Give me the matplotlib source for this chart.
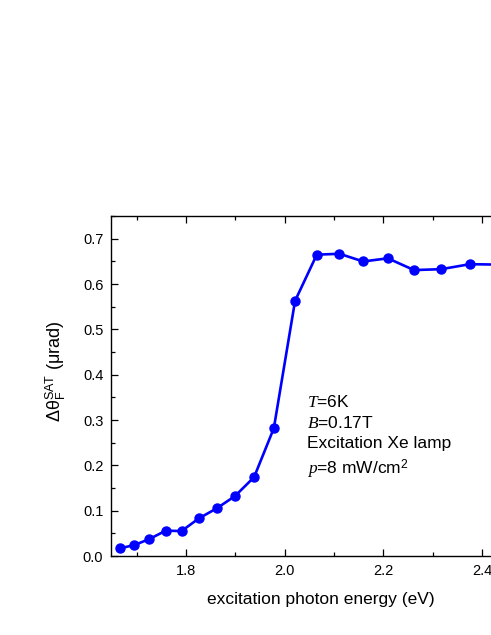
import matplotlib
matplotlib.use("Agg")
import matplotlib.pyplot as plt
from matplotlib.ticker import MultipleLocator

plt.rcParams['font.family'] = ['Liberation Sans', 'DejaVu Sans']
plt.rcParams['mathtext.fontset'] = 'custom'
plt.rcParams['mathtext.rm'] = 'Liberation Sans'
plt.rcParams['mathtext.it'] = 'Liberation Serif:italic'
plt.rcParams['mathtext.bf'] = 'Liberation Sans:bold'

energy = [1.666, 1.695, 1.726, 1.759, 1.791, 1.826, 1.862, 1.899, 1.938, 1.978,
          2.021, 2.065, 2.111, 2.159, 2.209, 2.262, 2.317, 2.375, 2.44]
signal = [0.017, 0.024, 0.0375, 0.056, 0.055, 0.083, 0.105, 0.132, 0.174, 0.282,
          0.563, 0.665, 0.667, 0.650, 0.657, 0.631, 0.633, 0.644, 0.643]

fig = plt.figure(figsize=(4.91, 6.35), dpi=100)
ax = fig.add_axes([0.226, 0.1244, 0.8564, 0.5359])

ax.plot(energy, signal, color='#0000ff', lw=1.9, marker='o', ms=6.5, clip_on=True)

ax.set_xlim(1.648, 2.5)
ax.set_ylim(0, 0.751)
ax.xaxis.set_major_locator(MultipleLocator(0.2))
ax.xaxis.set_minor_locator(MultipleLocator(0.1))
ax.yaxis.set_major_locator(MultipleLocator(0.1))
ax.yaxis.set_minor_locator(MultipleLocator(0.05))
ax.tick_params(which='both', direction='in', top=True, right=True, labelsize=10.5, width=0.9)
ax.tick_params(which='major', length=5, pad=5.5)
ax.tick_params(which='minor', length=3)
for s in ax.spines.values():
    s.set_linewidth(1.0)

ax.set_xlabel('excitation photon energy (eV)', fontsize=12.5, labelpad=10)
ax.set_ylabel('Δθ$_{\\mathrm{F}}^{\\mathrm{SAT}}$ (μrad)', fontsize=13)
ax.yaxis.set_label_coords(-0.102, 0.544)

ax.text(2.045, 0.358, '$T$=6K\n$B$=0.17T\nExcitation Xe lamp\n$p$=8 mW/cm$^2$',
        fontsize=12.5, va='top', ha='left', linespacing=1.4)

fig.savefig('out.png', dpi=100)
